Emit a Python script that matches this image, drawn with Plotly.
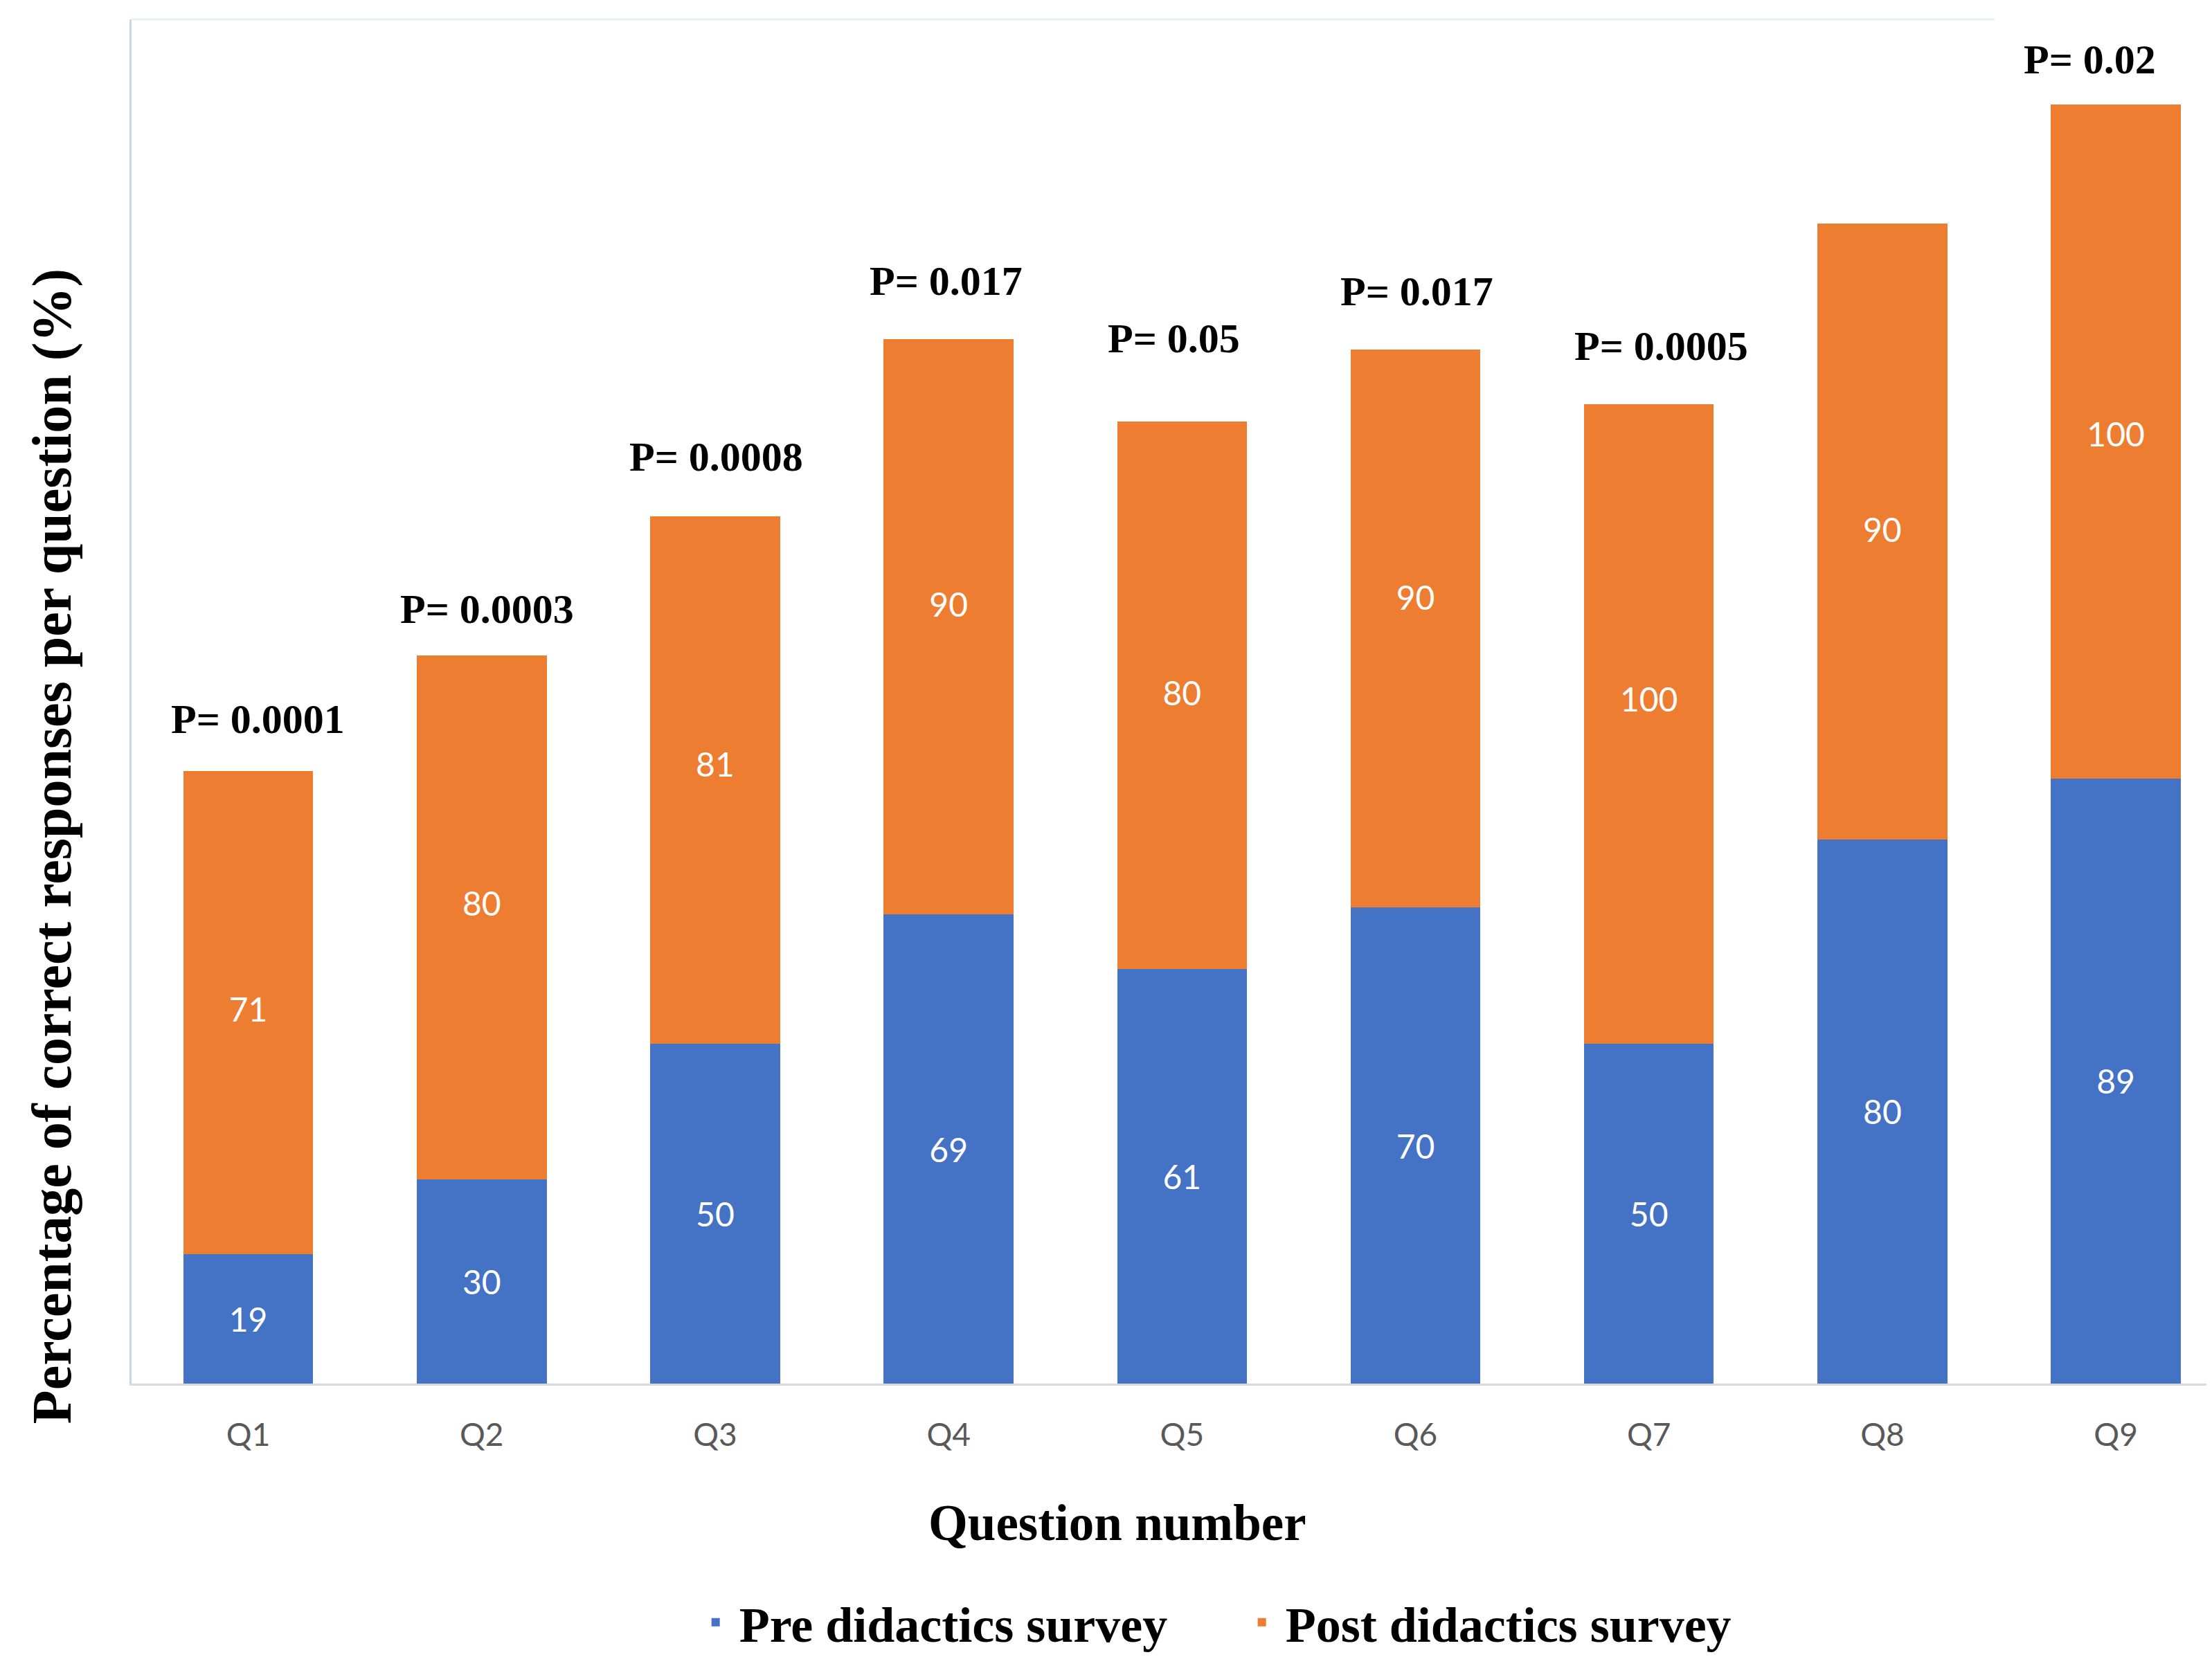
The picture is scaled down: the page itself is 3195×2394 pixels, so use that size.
import plotly.graph_objects as go

questions = ["Q1", "Q2", "Q3", "Q4", "Q5", "Q6", "Q7", "Q8", "Q9"]
pre_values = [19, 30, 50, 69, 61, 70, 50, 80, 89]
# labelled post-didactics values (as printed in the bars)
post_labels = [71, 80, 81, 90, 80, 90, 100, 90, 100]
# drawn heights of the orange segments
post_heights = [71.1, 77.1, 77.5, 84.6, 80.5, 82.1, 94.0, 90.6, 99.1]
p_labels = ["P= 0.0001", "P= 0.0003", "P= 0.0008", "P= 0.017", "P= 0.05",
            "P= 0.017", "P= 0.0005", "", "P= 0.02"]
# label offsets above bar tops (style only)
p_yshift = [75, 67, 86, 84, 120, 84, 84, 84, 65]
p_xshift = [14, 8, 2, -4, -12, 2, 18, 0, -38]

BLUE = "#4472C4"
ORANGE = "#ED7D31"
SERIF = "Liberation Serif"
SANS = "Lato"

fig = go.Figure()
fig.add_trace(go.Bar(
    x=questions, y=pre_values, name="Pre didactics survey",
    marker=dict(color=BLUE, line=dict(width=0)),
    text=pre_values, textposition="inside", insidetextanchor="middle",
    textfont=dict(family=SANS, size=48, color="white"),
    width=0.556,
))
fig.add_trace(go.Bar(
    x=questions, y=post_heights, name="Post didactics survey",
    marker=dict(color=ORANGE, line=dict(width=0)),
    width=0.556,
))
fig.add_trace(go.Scatter(
    x=questions, y=[a + b / 2 for a, b in zip(pre_values, post_labels)],
    mode="text", text=[str(v) for v in post_labels],
    textfont=dict(family=SANS, size=48, color="white"),
    showlegend=False, hoverinfo="skip",
))

annotations = []
for q, a, b, lab, ys, xs in zip(questions, pre_values, post_heights, p_labels, p_yshift, p_xshift):
    if not lab:
        continue
    annotations.append(dict(
        x=q, y=a + b, xref="x", yref="y", text="<b>" + lab + "</b>",
        showarrow=False, yshift=ys, xshift=xs, yanchor="middle", xanchor="center",
        font=dict(family=SERIF, size=60, color="black"),
    ))

annotations.append(dict(
    x=0.474, y=-0.102, xref="paper", yref="paper",
    text="<b>Question number</b>", showarrow=False,
    xanchor="center", yanchor="middle",
    font=dict(family=SERIF, size=73, color="black"),
))
annotations.append(dict(
    x=-0.038, y=0.394, xref="paper", yref="paper",
    text="<b>Percentage of correct responses per question (%)</b>", showarrow=False,
    xanchor="center", yanchor="middle", textangle=-90,
    font=dict(family=SERIF, size=80, color="black"),
))

fig.update_layout(
    barmode="stack",
    width=3187, height=2386,
    margin=dict(l=182, r=0, t=20, b=395, autoexpand=False),
    paper_bgcolor="white", plot_bgcolor="white",
    annotations=annotations,
    showlegend=True,
    legend=dict(
        orientation="h", x=0.532, y=-0.175, xanchor="center", yanchor="middle",
        font=dict(family=SERIF, size=72, color="black", weight="bold"),
        traceorder="normal",
        itemwidth=58, entrywidth=716, entrywidthmode="pixels",
    ),
    shapes=[dict(type="line", xref="paper", yref="paper", x0=0, x1=0.8955, y0=1, y1=1,
                 line=dict(color="#eef1f7", width=3))],
)
fig.update_xaxes(
    range=[-0.5, 8.412], showgrid=False, zeroline=False,
    showline=True, linecolor="#d9d9d9", linewidth=3,
    ticks="outside", ticklen=32, tickcolor="rgba(0,0,0,0)",
    tickfont=dict(family=SANS, size=46, color="#595959"),
)
fig.update_yaxes(
    range=[0, 200.6], showgrid=False, zeroline=False,
    showline=True, linecolor="#c9d5ec", linewidth=3,
    showticklabels=False, ticks="",
)

fig.write_html("out.html")
